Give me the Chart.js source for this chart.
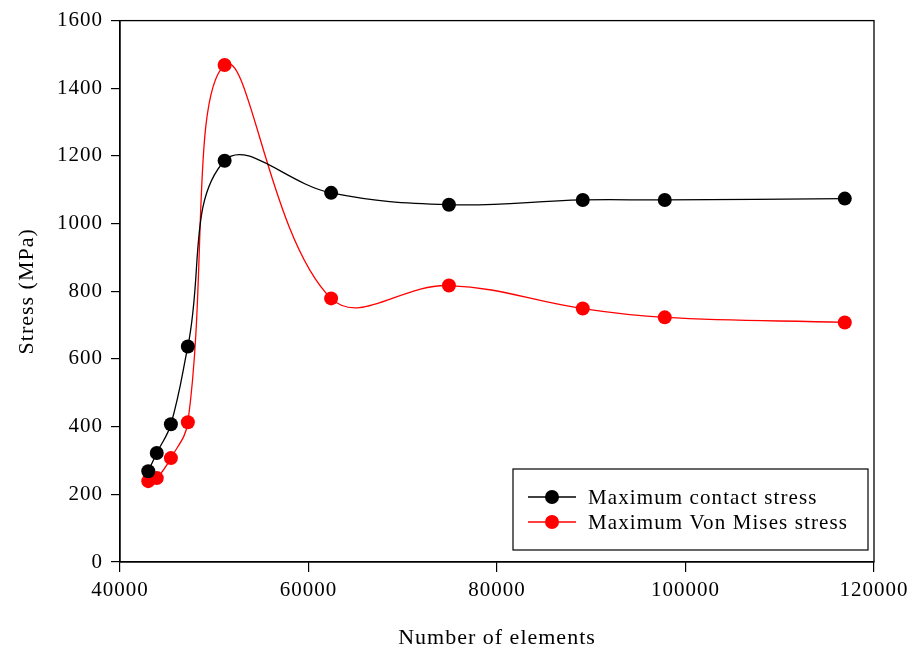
<!DOCTYPE html>
<html>
<head>
<meta charset="utf-8">
<script src="https://cdn.jsdelivr.net/npm/chart.js@4.4.0/dist/chart.umd.min.js"></script>
<style>
  html, body { margin: 0; padding: 0; background: #fff; }
  #wrap { width: 915px; height: 655px; }
</style>
</head>
<body>
<div id="wrap"><canvas id="stressChart" width="915" height="655"></canvas></div>
<script>
// Data
const elements = [43000, 43900, 45400, 47200, 51100, 62400, 74900, 89100, 97800, 116900];
const contactStress = [268, 322, 407, 637, 1186, 1091, 1056, 1070, 1070, 1074];
const vonMisesStress = [239, 248, 307, 413, 1469, 779, 817, 749, 723, 708];
const seriesNames = ['Maximum contact stress', 'Maximum Von Mises stress'];
const xTicks = [40000, 60000, 80000, 100000, 120000];
const yTicks = [0, 200, 400, 600, 800, 1000, 1200, 1400, 1600];

const FONT = 'Liberation Serif, Times New Roman, serif';

function toPoints(ys) {
  return elements.map((x, i) => ({ x: x, y: ys[i] }));
}

// the source text is set a bit loose
const spacingPlugin = {
  id: 'spacing',
  beforeDraw(chart) {
    chart.ctx.letterSpacing = '1px';
  }
};

// frame round the plot + boxed legend
const framePlugin = {
  id: 'frame',
  afterDraw(chart) {
    const ctx = chart.ctx;
    const a = chart.chartArea;
    ctx.save();
    ctx.strokeStyle = '#000';
    ctx.lineWidth = 1.3;
    ctx.strokeRect(a.left, a.top, a.right - a.left, a.bottom - a.top);

    // legend box in lower right of plot
    const bx = 513, by = 469, bw = 355, bh = 81;
    ctx.lineWidth = 1.2;
    ctx.strokeRect(bx, by, bw, bh);
    ctx.font = '21px ' + FONT;
    ctx.letterSpacing = '1.1px';
    ctx.textBaseline = 'middle';
    chart.data.datasets.forEach((ds, i) => {
      const y = by + 28 + i * 25;
      ctx.strokeStyle = ds.borderColor;
      ctx.lineWidth = 1.3;
      ctx.beginPath();
      ctx.moveTo(bx + 15, y);
      ctx.lineTo(bx + 63, y);
      ctx.stroke();
      ctx.fillStyle = ds.backgroundColor;
      ctx.beginPath();
      ctx.arc(bx + 39, y, 7, 0, Math.PI * 2);
      ctx.fill();
      ctx.fillStyle = '#000';
      ctx.fillText(ds.label, bx + 75, y + 1);
    });
    ctx.restore();
  }
};

new Chart(document.getElementById('stressChart').getContext('2d'), {
  type: 'line',
  data: {
    datasets: [
      {
        label: seriesNames[0],
        data: toPoints(contactStress),
        borderColor: '#000',
        backgroundColor: '#000',
        borderWidth: 1.3,
        pointRadius: 7,
        pointBorderWidth: 0,
        tension: 0.4
      },
      {
        label: seriesNames[1],
        data: toPoints(vonMisesStress),
        borderColor: '#ff0000',
        backgroundColor: '#ff0000',
        borderWidth: 1.3,
        pointRadius: 7,
        pointBorderWidth: 0,
        tension: 0.4
      }
    ]
  },
  options: {
    responsive: false,
    animation: false,
    layout: { padding: { top: 20, right: 41, left: 0, bottom: 0 } },
    plugins: {
      legend: { display: false },
      tooltip: { enabled: false }
    },
    scales: {
      x: {
        type: 'linear',
        min: 40000,
        max: 120000,
        afterBuildTicks(axis) { axis.ticks = xTicks.map(v => ({ value: v })); },
        afterFit(axis) { axis.height = 93; },
        grid: { drawOnChartArea: false, drawTicks: true, tickLength: 10, color: '#000', lineWidth: 1.2 },
        border: { color: '#000', width: 1.3 },
        ticks: { color: '#000', font: { family: FONT, size: 21 }, padding: 6, maxRotation: 0, callback: v => String(v) },
        title: { display: true, text: 'Number of elements', color: '#000', font: { family: FONT, size: 22 }, padding: { top: 14 } }
      },
      y: {
        type: 'linear',
        min: 0,
        max: 1600,
        afterBuildTicks(axis) { axis.ticks = yTicks.map(v => ({ value: v })); },
        afterFit(axis) { axis.width = 120; },
        grid: { drawOnChartArea: false, drawTicks: true, tickLength: 9, color: '#000', lineWidth: 1.2 },
        border: { color: '#000', width: 1.3 },
        ticks: { color: '#000', font: { family: FONT, size: 21 }, padding: 8, callback: v => String(v) },
        title: { display: true, text: 'Stress (MPa)', color: '#000', font: { family: FONT, size: 22 }, padding: { top: 14, bottom: 0 } }
      }
    }
  },
  plugins: [spacingPlugin, framePlugin]
});
</script>
</body>
</html>
